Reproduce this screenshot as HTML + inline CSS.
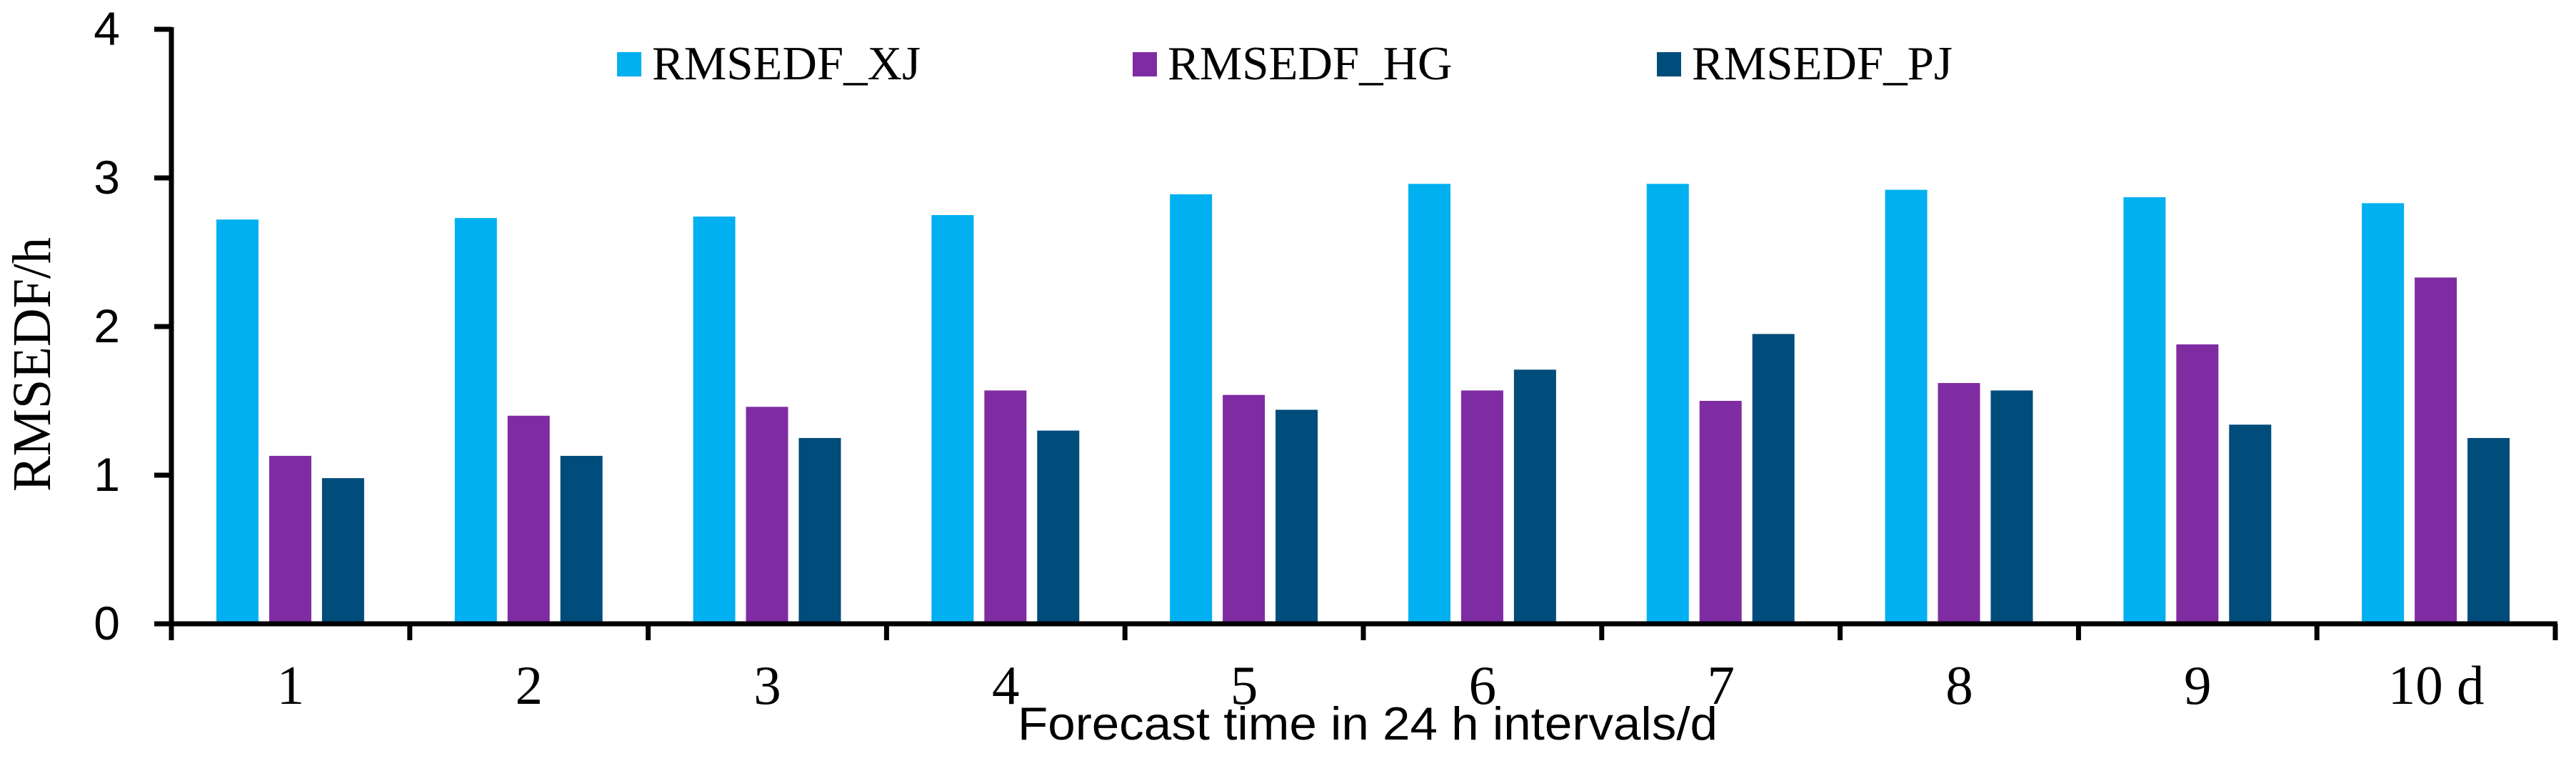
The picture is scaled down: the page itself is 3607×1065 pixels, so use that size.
<!DOCTYPE html>
<html><head><meta charset="utf-8"><style>html,body{margin:0;padding:0;background:#fff}svg{display:block}</style></head>
<body>
<svg id="chart" width="3607" height="1065" xmlns="http://www.w3.org/2000/svg">
<g id="bars"></g>
<g id="axes"></g>
<g id="legend"></g>
<text transform="translate(70,510) rotate(-90)" text-anchor="middle" textLength="356" lengthAdjust="spacingAndGlyphs" font-family="Liberation Serif, serif" font-size="76">RMSEDF/h</text>
<text x="1425" y="1035" textLength="980" lengthAdjust="spacingAndGlyphs" font-family="Liberation Sans, sans-serif" font-size="65">Forecast time in 24 h intervals/d</text>
</svg>
<script>
const categories = ["1","2","3","4","5","6","7","8","9","10 d"];
const seriesNames = ["RMSEDF_XJ","RMSEDF_HG","RMSEDF_PJ"];
const xj = [2.72,2.73,2.74,2.75,2.89,2.96,2.96,2.92,2.87,2.83];
const hg = [1.13,1.40,1.46,1.57,1.54,1.57,1.50,1.62,1.88,2.33];
const pj = [0.98,1.13,1.25,1.30,1.44,1.71,1.95,1.57,1.34,1.25];
const yTicks = [0,1,2,3,4];

const NS="http://www.w3.org/2000/svg";
const colors=["#00B0F0","#7F2CA3","#004C7A"];
const x0=240, x1=3578, y0=873, yTop=41;
const gw=(x1-x0)/categories.length;
const yScale=v=>y0-(v/4)*(y0-yTop);
const xGroup=i=>x0+i*gw;
function mk(tag,attrs,parent){const e=document.createElementNS(NS,tag);for(const k in attrs)e.setAttribute(k,attrs[k]);parent.appendChild(e);return e;}
const bars=document.getElementById('bars'),axes=document.getElementById('axes'),legend=document.getElementById('legend');
const series=[xj,hg,pj];
const offs=[63,137,211];
series.forEach((s,si)=>{s.forEach((v,i)=>{
  const r=mk('rect',{x:xGroup(i)+offs[si]*(gw/334),y:yScale(v),width:59,height:y0-yScale(v),fill:colors[si]},bars);
  
  
});});
let l=mk('line',{x1:x0,y1:yTop-3,x2:x0,y2:y0+23,stroke:'#000','stroke-width':7},axes);


l=mk('line',{x1:216,y1:y0,x2:x1+3,y2:y0,stroke:'#000','stroke-width':7},axes);


yTicks.forEach(t=>{
  const tk=mk('line',{x1:216,y1:yScale(t),x2:x0,y2:yScale(t),stroke:'#000','stroke-width':7},axes);
  
  
  const tx=mk('text',{x:168,y:yScale(t)+22,'text-anchor':'end','font-family':'Liberation Sans, sans-serif','font-size':66},axes);
  tx.textContent=String(t);
  
  
});
for(let i=0;i<=categories.length;i++){
  const tk=mk('line',{x1:xGroup(i),y1:y0,x2:xGroup(i),y2:y0+23,stroke:'#000','stroke-width':7},axes);
  
  
}
categories.forEach((c,i)=>{
  const tx=mk('text',{x:xGroup(i)+gw/2,y:985,'text-anchor':'middle','font-family':'Liberation Serif, serif','font-size':77},axes);
  tx.textContent=c;
  
  
});
const lx=[864,1586,2320];
seriesNames.forEach((n,i)=>{
  const g=mk('g',{},legend);
  
  
  mk('rect',{x:lx[i],y:73,width:34,height:34,fill:colors[i]},g);
  const t=mk('text',{x:lx[i]+49,y:111,'font-family':'Liberation Serif, serif','font-size':67},g);
  t.textContent=n;
});
</script>
</body></html>
